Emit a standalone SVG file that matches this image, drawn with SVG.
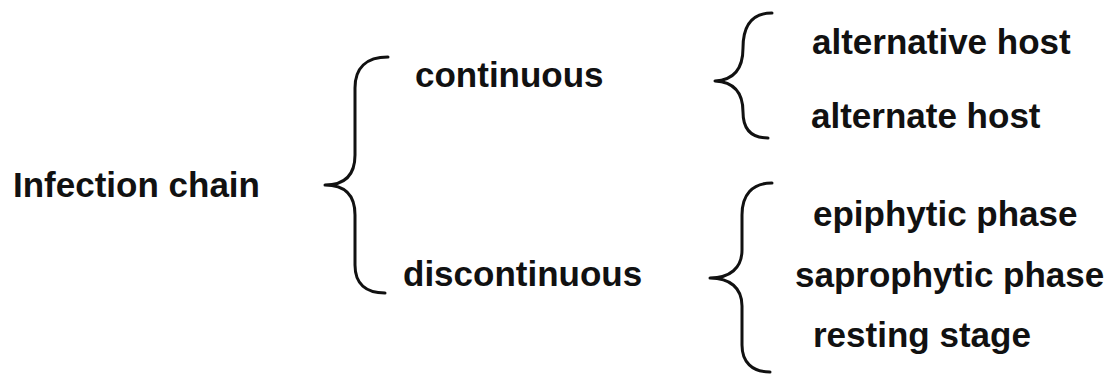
<svg xmlns="http://www.w3.org/2000/svg" width="1115" height="375" viewBox="0 0 1115 375">
<style>
text{font-family:"Liberation Sans",Arial,sans-serif;font-weight:bold;font-size:35px;fill:#111}
.br{fill:none;stroke:#111;stroke-width:3;stroke-linecap:round;stroke-linejoin:round}
</style>
<rect width="1115" height="375" fill="#fff"/>
<g id="root"><text x="13" y="197">Infection chain</text></g>
<g id="continuous"><text x="415" y="87">continuous</text></g>
<g id="discontinuous"><text x="403" y="286">discontinuous</text></g>
<g id="alternative-host"><text x="812" y="54">alternative host</text></g>
<g id="alternate-host"><text x="811" y="128">alternate host</text></g>
<g id="epiphytic-phase"><text x="813" y="226">epiphytic phase</text></g>
<g id="saprophytic-phase"><text x="795" y="287">saprophytic phase</text></g>
<g id="resting-stage"><text x="813" y="347">resting stage</text></g>
<g id="connectors">
<path class="br" d="M388,57 C366,57 355,68 355,88 L355,155 C355,175 345,185 325,185 C345,185 355,195 355,215 L355,265 C355,284 366,293 385,293"/>
<path class="br" d="M772,13 C750,13 743,28 743,48 C743,68 735,80 715,81 C735,82 743,94 743,112 C743,130 752,138 768,138"/>
<path class="br" d="M772,183 C752,183 742,195 742,215 L742,250 C742,268 730,278 710,278 C730,278 742,288 742,306 L742,345 C742,362 752,372 770,372"/>
</g>
</svg>
